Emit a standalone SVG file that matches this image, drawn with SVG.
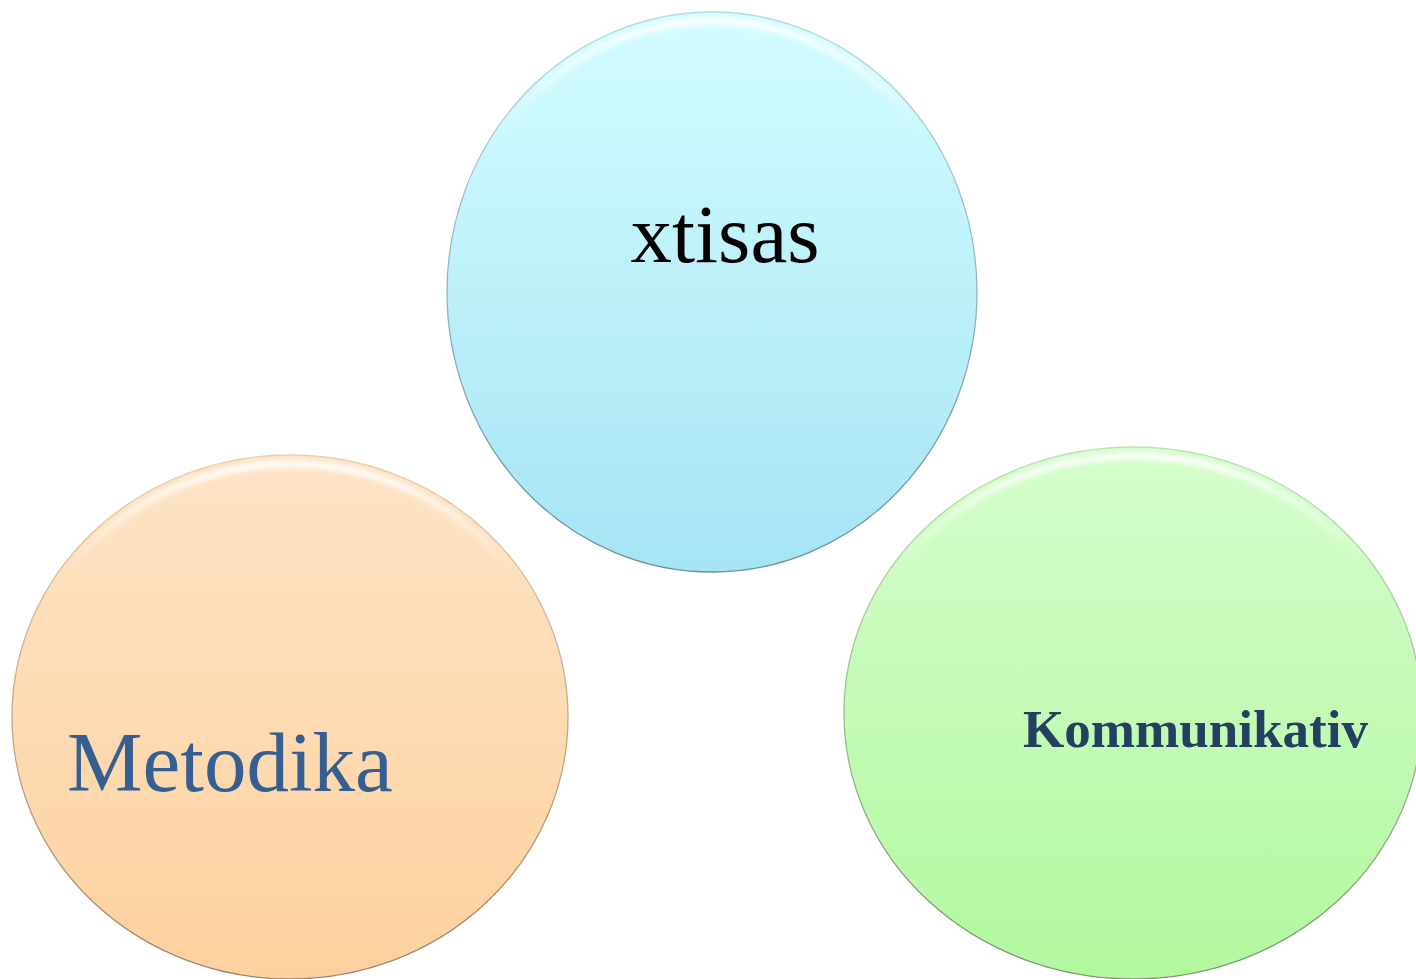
<svg xmlns="http://www.w3.org/2000/svg" width="1416" height="979" viewBox="0 0 1416 979">
<style>
.rim{fill:none;stroke-width:1.3}
.hl{fill:none;stroke-width:7;filter:url(#soft)}
.lbl{font-family:"Liberation Serif","Times New Roman",serif}
</style>
<defs>
<filter id="soft" x="-5%" y="-5%" width="110%" height="110%">
<feGaussianBlur stdDeviation="2.5"/>
</filter>
<linearGradient id="gBlue" x1="0" y1="0" x2="0" y2="1">
<stop offset="0" stop-color="#D3FDFF"/><stop offset="1" stop-color="#A6E4F4"/>
</linearGradient>
<linearGradient id="gOrange" x1="0" y1="0" x2="0" y2="1">
<stop offset="0" stop-color="#FDE4C6"/><stop offset="1" stop-color="#FDD19F"/>
</linearGradient>
<linearGradient id="gGreen" x1="0" y1="0" x2="0" y2="1">
<stop offset="0" stop-color="#D5FDCC"/><stop offset="1" stop-color="#B2F89F"/>
</linearGradient>
<linearGradient id="hlGrad" x1="0" y1="0" x2="0" y2="1">
<stop offset="0" stop-color="#FFFFFF" stop-opacity="0.95"/><stop offset="0.22" stop-color="#FFFFFF" stop-opacity="0"/>
</linearGradient>
<linearGradient id="rimBlue" x1="0" y1="0" x2="0" y2="1">
<stop offset="0" stop-color="#B5DDE4"/><stop offset="1" stop-color="#6F8E9A"/>
</linearGradient>
<linearGradient id="rimOrange" x1="0" y1="0" x2="0" y2="1">
<stop offset="0" stop-color="#EBCFAE"/><stop offset="1" stop-color="#9A8468"/>
</linearGradient>
<linearGradient id="rimGreen" x1="0" y1="0" x2="0" y2="1">
<stop offset="0" stop-color="#BEE3B4"/><stop offset="1" stop-color="#7C9474"/>
</linearGradient>
</defs>
<rect width="1416" height="979" fill="#FFFFFF"/>
<g id="node-xtisas">
<ellipse cx="712" cy="292" rx="265" ry="280" fill="url(#gBlue)"/>
<ellipse cx="712" cy="295" rx="260" ry="274" class="hl" stroke="url(#hlGrad)"/>
<ellipse cx="712" cy="292" rx="265" ry="280" class="rim" stroke="url(#rimBlue)"/>
<text class="lbl" x="725" y="262" font-size="83" fill="#000000" text-anchor="middle">xtisas</text>
</g>
<g id="node-metodika">
<ellipse cx="290" cy="717" rx="278" ry="262" fill="url(#gOrange)"/>
<ellipse cx="290" cy="720" rx="273" ry="256" class="hl" stroke="url(#hlGrad)"/>
<ellipse cx="290" cy="717" rx="278" ry="262" class="rim" stroke="url(#rimOrange)"/>
<text class="lbl" x="67" y="791" font-size="85" fill="#365F91">Metodika</text>
</g>
<g id="node-kommunikativ">
<ellipse cx="1133" cy="713" rx="289" ry="266" fill="url(#gGreen)"/>
<ellipse cx="1133" cy="716" rx="284" ry="260" class="hl" stroke="url(#hlGrad)"/>
<ellipse cx="1133" cy="713" rx="289" ry="266" class="rim" stroke="url(#rimGreen)"/>
<text class="lbl" x="1023" y="747" font-size="52" font-weight="bold" fill="#243F60" textLength="345" lengthAdjust="spacingAndGlyphs">Kommunikativ</text>
</g>
<g id="connectors"/>
</svg>
